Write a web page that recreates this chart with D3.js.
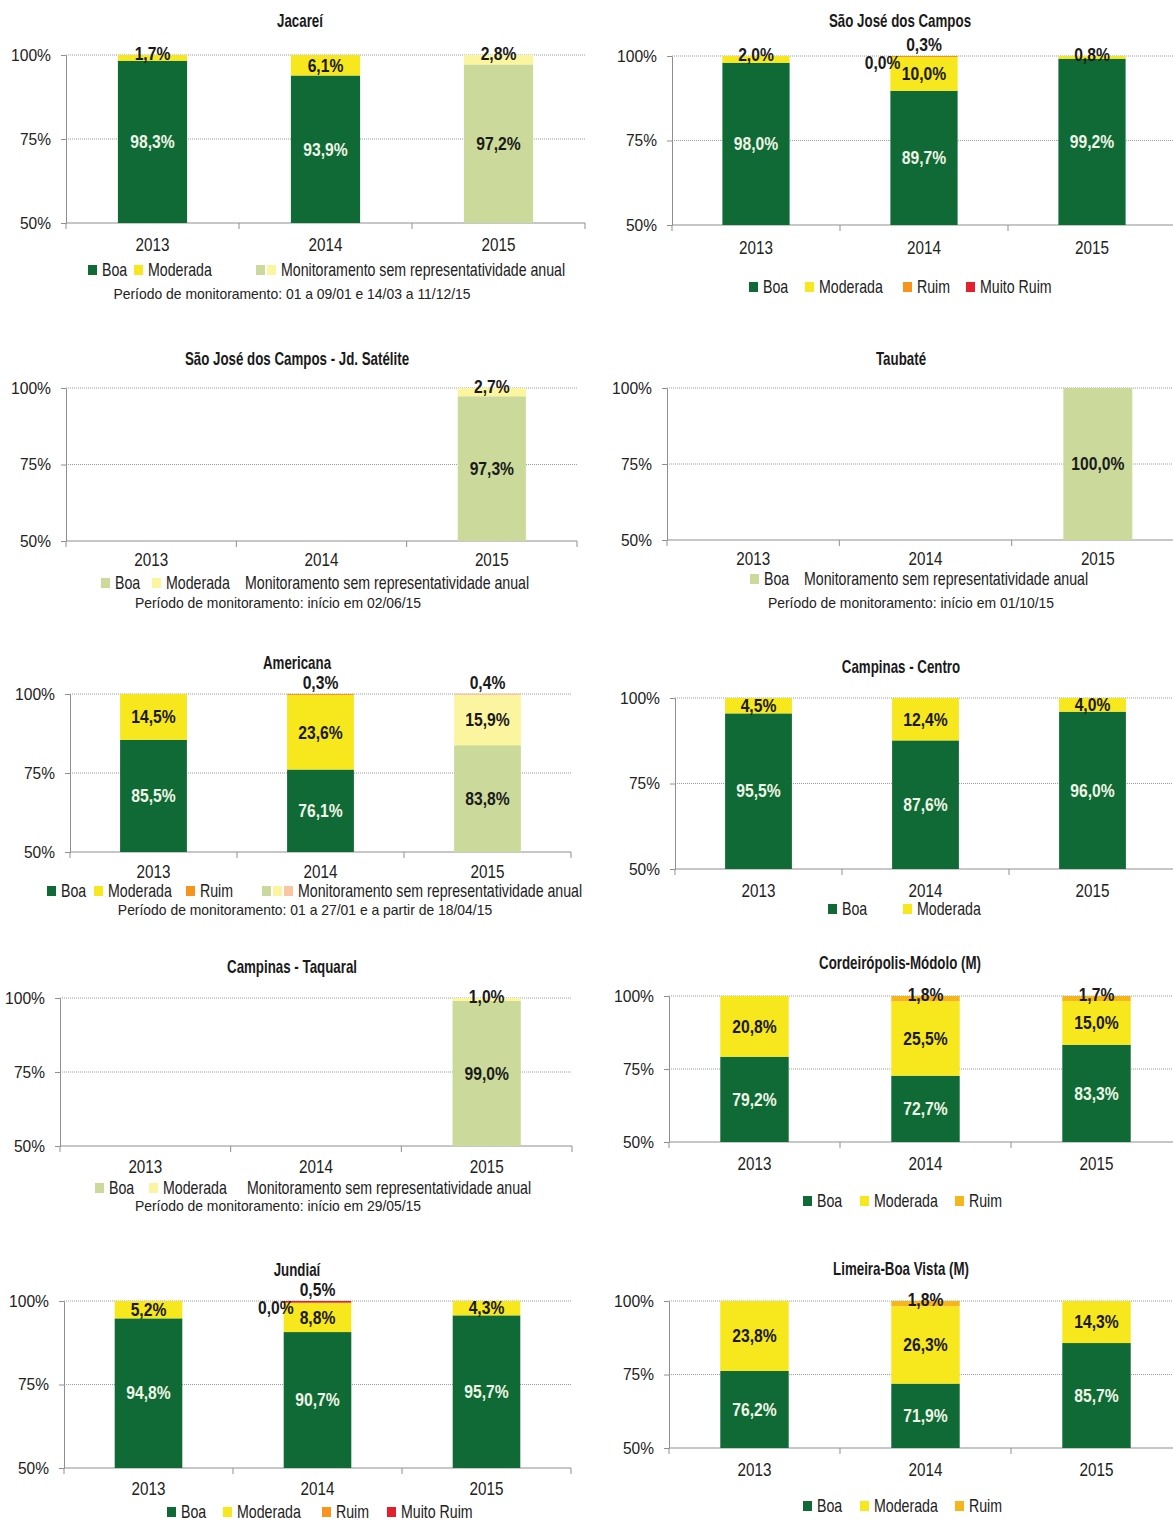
<!DOCTYPE html>
<html><head><meta charset="utf-8">
<script src="https://cdn.jsdelivr.net/npm/d3@7"></script>
<style>
body{margin:0;background:#fff;}
svg text{font-family:"Liberation Sans",Arial,sans-serif;}
</style></head><body>
<svg id="c" width="1173" height="1521"></svg>
<script>
// ---------------- DATA ----------------
const years = ["2013", "2014", "2015"];
const yTicks = [50, 75, 100];
const seriesKeys = ["Boa", "Moderada", "Ruim", "Muito Ruim"];
const titles = ["Jacareí", "São José dos Campos", "São José dos Campos - Jd. Satélite", "Taubaté",
  "Americana", "Campinas - Centro", "Campinas - Taquaral", "Cordeirópolis-Módolo (M)",
  "Jundiaí", "Limeira-Boa Vista (M)"];
const boa = [[98.3, 93.9, 97.2], [98.0, 89.7, 99.2], [null, null, 97.3], [null, null, 100.0],
  [85.5, 76.1, 83.8], [95.5, 87.6, 96.0], [null, null, 99.0], [79.2, 72.7, 83.3],
  [94.8, 90.7, 95.7], [76.2, 71.9, 85.7]];
const moderada = [[1.7, 6.1, 2.8], [2.0, 10.0, 0.8], [null, null, 2.7], [null, null, null],
  [14.5, 23.6, 15.9], [4.5, 12.4, 4.0], [null, null, 1.0], [20.8, 25.5, 15.0],
  [5.2, 8.8, 4.3], [23.8, 26.3, 14.3]];
const ruim = [[null, null, null], [null, 0.3, null], [null, null, null], [null, null, null],
  [null, 0.3, 0.4], [null, null, null], [null, null, null], [null, 1.8, 1.7],
  [null, 0.0, null], [null, 1.8, null]];
const muitoRuim = [[null, null, null], [null, 0.0, null], [null, null, null], [null, null, null],
  [null, null, null], [null, null, null], [null, null, null], [null, null, null],
  [null, 0.5, null], [null, null, null]];
// monitoring without annual representativeness
const nonRepresentative = [[false, false, true], [false, false, false], [false, false, true], [false, false, true],
  [false, false, true], [false, false, false], [false, false, true], [false, false, false],
  [false, false, false], [false, false, false]];
const notes = ["Período de monitoramento: 01 a 09/01 e 14/03 a 11/12/15", null,
  "Período de monitoramento: início em 02/06/15", "Período de monitoramento: início em 01/10/15",
  "Período de monitoramento: 01 a 27/01 e a partir de 18/04/15", null,
  "Período de monitoramento: início em 29/05/15", null, null, null];
const repText = "Monitoramento sem representatividade anual";

// ---------------- STYLE / LAYOUT ----------------
const C = {
  boa: "#0f6a35", mod: "#f7e71d", ruim: "#f7941d", ruimGold: "#f6b51b", mruim: "#e3202c",
  boaL: "#cbda9b", modL: "#fcf5a0", ruimL: "#f8c6a0", mruimL: "#f4a3a3"
};
const layout = [
  {x0: 66, x1: 585, y100: 55, y50: 223, tx: 300, ty: 21, yy: 245, ly: 270, nx: 292, ny: 294, ruim: C.ruim,
   legend: [{sw: [C.boa], t: "Boa", x: 88}, {sw: [C.mod], t: "Moderada", x: 134}, {sw: [C.boaL, C.modL], t: repText, x: 256}]},
  {x0: 672, x1: 1176, y100: 56, y50: 225, tx: 900, ty: 21, yy: 248, ly: 287, ruim: C.ruim,
   legend: [{sw: [C.boa], t: "Boa", x: 749}, {sw: [C.mod], t: "Moderada", x: 805}, {sw: [C.ruim], t: "Ruim", x: 903}, {sw: [C.mruim], t: "Muito Ruim", x: 966}]},
  {x0: 66, x1: 577, y100: 388, y50: 541, tx: 297, ty: 359, yy: 560, ly: 583, nx: 278, ny: 603, ruim: C.ruim,
   legend: [{sw: [C.boaL], t: "Boa", x: 101}, {sw: [C.modL], t: "Moderada", x: 152}, {sw: [], t: repText, x: 245}]},
  {x0: 667, x1: 1184, y100: 388, y50: 540, tx: 901, ty: 359, yy: 559, ly: 579, nx: 911, ny: 603, ruim: C.ruim,
   legend: [{sw: [C.boaL], t: "Boa", x: 750}, {sw: [], t: repText, x: 804}]},
  {x0: 70, x1: 571, y100: 694, y50: 852, tx: 297, ty: 663, yy: 872, ly: 891, nx: 305, ny: 910, ruim: C.ruim,
   legend: [{sw: [C.boa], t: "Boa", x: 47}, {sw: [C.mod], t: "Moderada", x: 94}, {sw: [C.ruim], t: "Ruim", x: 186}, {sw: [C.boaL, C.modL, C.ruimL], t: repText, x: 262}]},
  {x0: 675, x1: 1176, y100: 698, y50: 869, tx: 901, ty: 667, yy: 891, ly: 909, ruim: C.ruim,
   legend: [{sw: [C.boa], t: "Boa", x: 828}, {sw: [C.mod], t: "Moderada", x: 903}]},
  {x0: 60, x1: 572, y100: 998, y50: 1146, tx: 292, ty: 967, yy: 1167, ly: 1188, nx: 278, ny: 1206, ruim: C.ruim,
   legend: [{sw: [C.boaL], t: "Boa", x: 95}, {sw: [C.modL], t: "Moderada", x: 149}, {sw: [], t: repText, x: 247}]},
  {x0: 669, x1: 1182, y100: 996, y50: 1142, tx: 900, ty: 963, yy: 1164, ly: 1201, ruim: C.ruimGold,
   legend: [{sw: [C.boa], t: "Boa", x: 803}, {sw: [C.mod], t: "Moderada", x: 860}, {sw: [C.ruimGold], t: "Ruim", x: 955}]},
  {x0: 64, x1: 571, y100: 1301, y50: 1468, tx: 297, ty: 1270, yy: 1489, ly: 1512, ruim: C.ruim,
   legend: [{sw: [C.boa], t: "Boa", x: 167}, {sw: [C.mod], t: "Moderada", x: 223}, {sw: [C.ruim], t: "Ruim", x: 322}, {sw: [C.mruim], t: "Muito Ruim", x: 387}]},
  {x0: 669, x1: 1182, y100: 1301, y50: 1448, tx: 901, ty: 1269, yy: 1470, ly: 1506, ruim: C.ruimGold,
   legend: [{sw: [C.boa], t: "Boa", x: 803}, {sw: [C.mod], t: "Moderada", x: 860}, {sw: [C.ruimGold], t: "Ruim", x: 955}]}
];

const fmt = v => v.toFixed(1).replace(".", ",") + "%";
const svg = d3.select("#c");

// text helper with optional horizontal condensing
function txt(g, x, y, s, o) {
  o = o || {};
  return g.append("text")
    .attr("transform", `translate(${x},${y}) scale(${o.sx || 1},1)`)
    .attr("dy", "0.35em")
    .attr("text-anchor", o.anchor || "start")
    .attr("font-weight", o.bold ? "bold" : "normal")
    .attr("font-size", o.size || 16)
    .attr("fill", o.fill || "#222")
    .text(s);
}

titles.forEach((title, i) => {
  const L = layout[i];
  const g = svg.append("g");
  const x = d3.scaleBand().domain(years).range([L.x0, L.x1]);
  const y = d3.scaleLinear().domain([50, 100]).range([L.y50, L.y100]);
  const bw = x.bandwidth() * 0.4;

  // title
  txt(g, L.tx, L.ty, title, {anchor: "middle", bold: true, size: 18, sx: 0.74, fill: "#1a1a1a"});

  // gridlines
  g.selectAll(".grid").data(yTicks.filter(t => t > 50)).join("line")
    .attr("x1", L.x0).attr("x2", L.x1).attr("y1", d => y(d)).attr("y2", d => y(d))
    .attr("stroke", "#9c9c9c").attr("stroke-width", 1).attr("stroke-dasharray", "1,1");

  // y axis
  const ya = g.append("g").attr("transform", `translate(${L.x0},0)`)
    .call(d3.axisLeft(y).tickValues(yTicks).tickSize(5).tickSizeOuter(0).tickPadding(10).tickFormat(d => d + "%"));
  ya.select(".domain").attr("stroke", "#8f8f8f");
  ya.selectAll(".tick line").attr("stroke", "#8f8f8f");
  ya.selectAll(".tick text").attr("font-size", 16.5).attr("fill", "#222").attr("font-family", null)
    .attr("textLength", 40).attr("lengthAdjust", "spacingAndGlyphs")
    .filter(d => d !== 100).attr("textLength", 31);

  // x axis: baseline + boundary ticks, year labels
  g.append("line").attr("x1", L.x0).attr("x2", L.x1).attr("y1", y(50)).attr("y2", y(50))
    .attr("stroke", "#8f8f8f");
  const bounds = years.map(yr => x(yr)).concat([x(years[years.length - 1]) + x.bandwidth()]);
  g.selectAll(".xt").data(bounds).join("line")
    .attr("x1", d => d).attr("x2", d => d).attr("y1", y(50)).attr("y2", y(50) + 6)
    .attr("stroke", "#8f8f8f");
  years.forEach(yr => txt(g, x(yr) + x.bandwidth() / 2, L.yy, yr, {anchor: "middle", size: 17.5, sx: 0.87}));

  // stacked bars
  const rows = years.map((yr, j) => ({
    year: yr, j,
    "Boa": boa[i][j], "Moderada": moderada[i][j], "Ruim": ruim[i][j], "Muito Ruim": muitoRuim[i][j]
  }));
  const stack = d3.stack().keys(seriesKeys).value((d, k) => d[k] == null ? 0 : d[k]);
  const stacked = stack(rows);
  const colorOf = (key, nonrep) => {
    if (key === "Boa") return nonrep ? C.boaL : C.boa;
    if (key === "Moderada") return nonrep ? C.modL : C.mod;
    if (key === "Ruim") return nonrep ? C.ruimL : L.ruim;
    return nonrep ? C.mruimL : C.mruim;
  };
  const labels = [];
  stacked.forEach(s => {
    const key = s.key;
    s.forEach(seg => {
      const row = seg.data;
      const v = row[key];
      if (v == null) return;
      const nonrep = nonRepresentative[i][row.j];
      const cx = x(row.year) + x.bandwidth() / 2;
      const lo = Math.max(seg[0], 50), hi = seg[1];
      if (v > 0 && hi > lo) {
        g.append("rect").attr("x", cx - bw / 2).attr("width", bw)
          .attr("y", y(hi)).attr("height", y(lo) - y(hi))
          .attr("fill", colorOf(key, nonrep));
      }
      let lx = cx, ly, anchor = "middle";
      const light = key === "Boa" && !nonrep;
      if (v === 0) {
        anchor = "end"; lx = cx - bw / 2 + 10; ly = y(100) + 7;
      } else if ((key === "Ruim" || key === "Muito Ruim") && v < 1) {
        ly = y(100) - 11;
      } else if (key !== "Boa" && v < 3) {
        ly = y(100) - 1;
      } else {
        ly = y((lo + hi) / 2);
      }
      labels.push({lx, ly, anchor, light, v});
    });
  });
  labels.forEach(l => txt(g, l.lx, l.ly, fmt(l.v),
    {anchor: l.anchor, bold: true, size: 18, sx: 0.87, fill: l.light ? "#eef4e6" : "#1a1a1a"}));

  // legend
  L.legend.forEach(item => {
    let cx = item.x;
    item.sw.forEach(col => {
      g.append("rect").attr("x", cx).attr("y", L.ly - 5).attr("width", 9).attr("height", 10).attr("fill", col);
      cx += 11;
    });
    txt(g, item.sw.length ? cx + 3 : cx, L.ly, item.t, {size: 17.5, sx: 0.81});
  });

  // note
  if (notes[i]) txt(g, L.nx, L.ny, notes[i], {anchor: "middle", size: 14.5, sx: 0.96});
});
</script>
</body></html>
